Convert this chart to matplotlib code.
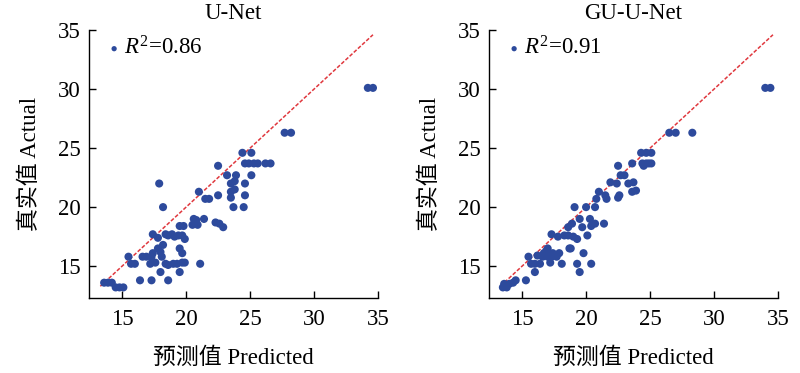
import matplotlib
matplotlib.use("Agg")
import matplotlib.pyplot as plt

# ---------------- data ----------------
titles = ["U-Net", "GU-U-Net"]
r2_labels = [r"$R^2$=0.86", r"$R^2$=0.91"]
ticks = [15, 20, 25, 30, 35]
diag = [13.3, 34.6]

pred_unet = [13.6, 13.9, 14.2, 14.5, 14.8, 15.1,
             16.4, 17.3, 18.6,
             15.5, 15.7, 16.0,
             16.6, 16.9, 17.2, 17.3, 17.4, 17.6, 17.8, 18.0, 18.1, 18.2, 18.0, 18.4, 18.6, 19.0, 19.3, 19.7, 19.9, 19.5, 19.7, 19.5,
             17.4, 17.8, 18.4, 18.6, 18.9, 19.1, 19.4, 19.7, 19.9,
             19.5, 19.8, 20.6, 20.8, 20.5, 20.9, 21.4, 21.1, 22.3, 22.6, 22.9,
             17.9, 18.2,
             21.0, 21.5, 21.8, 22.5, 22.5,
             23.2, 23.5, 23.8, 23.9, 23.5, 23.5, 23.8, 23.7, 24.5, 24.6, 24.6, 24.4, 25.1, 24.6, 24.9, 25.3, 25.6, 25.1, 26.2, 26.6,
             27.7, 28.2,
             34.2, 34.6]
act_unet = [13.6, 13.6, 13.6, 13.2, 13.2, 13.2,
            13.8, 13.8, 13.8,
            15.8, 15.2, 15.2,
            15.8, 15.8, 15.2, 15.8, 16.1, 15.3, 16.5, 16.2, 15.8, 16.8, 14.5, 15.2, 15.1, 15.2, 15.2, 15.3, 15.3, 16.5, 16.1, 14.5,
            17.7, 17.4, 17.7, 17.6, 17.7, 17.5, 17.6, 17.6, 17.3,
            18.4, 18.4, 19.0, 18.9, 18.5, 18.5, 19.0, 15.2, 18.7, 18.6, 18.3,
            22.0, 20.0,
            21.3, 20.7, 20.7, 21.0, 23.5,
            22.7, 22.0, 22.2, 22.7, 21.3, 20.8, 21.5, 20.0, 20.0, 21.0, 22.0, 24.6, 24.6, 23.7, 23.7, 23.7, 23.7, 22.7, 23.7, 23.7,
            26.3, 26.3,
            30.1, 30.1]

pred_gu = [13.5, 13.7, 14.0, 14.3, 14.5, 13.6, 13.8, 15.3,
           15.5, 15.7, 16.0, 16.0, 16.4, 16.2, 16.6, 16.7, 16.9, 17.0, 17.2, 17.3, 17.4, 17.7, 17.9, 18.1, 17.0,
           17.3, 17.8, 18.3, 18.6, 19.0, 19.3, 20.1, 18.6, 18.9, 19.5, 19.7, 20.3, 20.4, 20.7, 21.4, 18.7, 18.8, 19.8, 19.3, 20.4, 19.5,
           19.1, 20.0, 20.7, 20.8, 21.0, 21.5, 21.6, 21.9, 22.5, 22.6, 22.4, 22.7, 23.0, 22.5, 23.3, 23.7, 23.6, 23.9, 23.6, 24.3, 24.7, 25.1, 24.4, 24.7, 24.9, 25.1, 24.5,
           26.5, 27.0, 28.3,
           34.0, 34.4]
act_gu = [13.2, 13.3, 13.5, 13.6, 13.8, 13.5, 13.2, 13.8,
          15.8, 15.2, 15.2, 14.5, 15.2, 15.9, 15.8, 16.1, 16.3, 15.8, 15.3, 15.8, 16.1, 15.8, 16.1, 15.2, 16.5,
          17.7, 17.5, 17.6, 17.6, 17.5, 17.3, 17.6, 18.3, 18.6, 19.0, 18.3, 19.0, 18.4, 18.6, 18.6, 16.5, 16.5, 16.1, 15.2, 15.2, 14.5,
          20.0, 20.0, 20.0, 20.7, 21.3, 21.0, 20.7, 22.1, 20.8, 21.0, 22.0, 22.7, 22.7, 23.5, 22.0, 22.1, 21.3, 21.4, 23.7, 24.6, 24.6, 24.6, 23.7, 23.7, 23.7, 23.7, 23.5,
          26.3, 26.3, 26.3,
          30.1, 30.1]

# ---------------- style ----------------
plt.rcParams['font.family'] = ['Liberation Serif', 'Noto Sans CJK SC']
plt.rcParams['mathtext.fontset'] = 'custom'
plt.rcParams['mathtext.it'] = 'Liberation Serif:italic'
plt.rcParams['mathtext.rm'] = 'Liberation Serif'
FS = 16.5
BLUE = '#2D4A9C'
RED = '#E0383E'

fig = plt.figure(figsize=(8.0, 3.73), dpi=100)
positions = [[0.111, 0.201, 0.3616, 0.7185], [0.611, 0.201, 0.3616, 0.7185]]
series = [(pred_unet, act_unet), (pred_gu, act_gu)]

for i in range(2):
    ax = fig.add_axes(positions[i])
    px, py = series[i]
    ax.plot(diag, diag, linestyle=(0, (2.5, 1.2)), color=RED, linewidth=1.1, zorder=1)
    ax.scatter(px, py, s=34, color=BLUE, edgecolors='none', zorder=2, label=r2_labels[i])
    ax.set_xlim(12.4, 35)
    ax.set_ylim(12.3, 35)
    ax.set_xticks(ticks)
    ax.set_yticks(ticks)
    for s in ['top', 'right']:
        ax.spines[s].set_visible(False)
    for s in ['left', 'bottom']:
        ax.spines[s].set_linewidth(1.0)
    ax.tick_params(direction='in', length=5, width=1.0, labelsize=FS)
    ax.tick_params(axis='x', pad=8)
    ax.tick_params(axis='y', pad=6)
    ax.set_title(titles[i], fontsize=FS, pad=8)
    ax.set_xlabel('预测值 Predicted', fontsize=FS)
    ax.set_ylabel('真实值 Actual', fontsize=FS)
    ax.xaxis.set_label_coords(0.5, -0.185)
    ax.yaxis.set_label_coords(-0.165, 0.5)
    leg = ax.legend(loc='upper left', bbox_to_anchor=(0.04, 1.01), frameon=False,
                    fontsize=FS, markerscale=0.65, handlelength=0.4,
                    handletextpad=0.25, borderaxespad=0.0)

fig.savefig('out.png', dpi=100)
